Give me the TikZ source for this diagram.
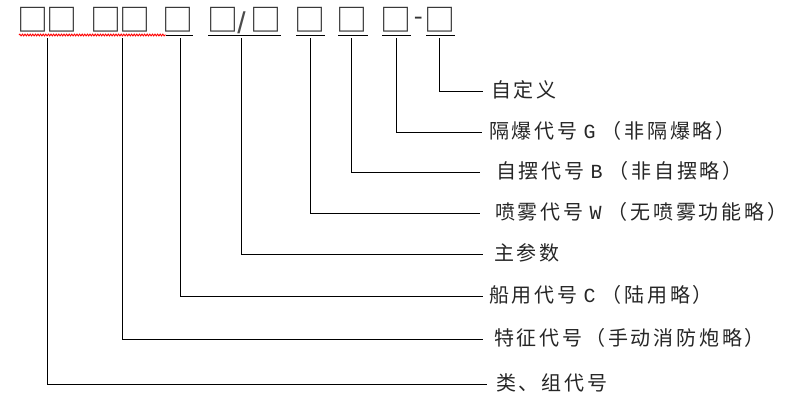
\documentclass[tikz,border=0pt]{standalone}
\usepackage{fontspec}
\newfontfamily\cjk[LetterSpace=14]{Noto Sans CJK SC}
\newfontfamily\cjkbox{Noto Sans CJK SC}
\newfontfamily\monof{Liberation Mono}
\newfontfamily\sansf{Liberation Sans}
\usetikzlibrary{decorations.pathmorphing}
\newcommand{\lat}[1]{\makebox[24pt]{\monof\fontsize{20}{20}\selectfont #1}}
\newcommand{\sqg}{\makebox[21pt]{□}}
\begin{document}
\begin{tikzpicture}[x=1pt,y=-1pt,
  lab/.style={anchor=base west,inner sep=0pt,font=\cjk\fontsize{20}{20}\selectfont,text=black!85},
  sq/.style={inner sep=0pt,font=\cjkbox\fontsize{31}{31}\selectfont,text=black!80},
  slsym/.style={inner sep=0pt,font=\sansf\fontsize{30}{30}\selectfont,text=black!70},
  dasym/.style={inner sep=0pt,font=\monof\fontsize{24}{24}\selectfont,text=black!80},
  conn/.style={line width=0.9pt,black},
  uline/.style={line width=0.9pt,black},
  wavy/.style={red,line width=0.9pt,decorate,decoration={snake,amplitude=0.9pt,segment length=2.6pt}}]
\useasboundingbox[fill=white] (0,0) rectangle (812,405);
% code row
\node[sq] (b1) at (32.5,20) {\sqg};
\node[sq] (b2) at (61.5,20) {\sqg};
\node[sq] (b3) at (106,20) {\sqg};
\node[sq] (b4) at (134.7,20) {\sqg};
\node[sq] (b5) at (178.3,20) {\sqg};
\node[sq] (b6) at (222.8,20) {\sqg};
\node[slsym] (sl) at (241.5,22.5) {\makebox[6pt]{/}};
\node[sq] (b7) at (266,20) {\sqg};
\node[sq] (b8) at (309.7,20) {\sqg};
\node[sq] (b9) at (352,20) {\sqg};
\node[sq] (b10) at (396.3,20) {\sqg};
\node[dasym] (da) at (418.3,20.5) {\makebox[8pt]{-}};
\node[sq] (b11) at (439.7,20) {\sqg};
% underlines
\draw[wavy] (19,35) -- (166,35);
\draw[uline] (166,35) -- (193,35);
\draw[uline] (208,35) -- (281,35);
\draw[uline] (296,35) -- (325,35);
\draw[uline] (338,35) -- (368,35);
\draw[uline] (382,35) -- (411,35);
\draw[uline] (426,35) -- (455,35);
% labels
\node[lab] (l1) at (491,97.5) {自定义};
\node[lab] (l2) at (489,138.5) {隔爆代号\lat{G}（非隔爆略）};
\node[lab] (l3) at (496,178.5) {自摆代号\lat{B}（非自摆略）};
\node[lab] (l4) at (495,219.5) {喷雾代号\lat{W}（无喷雾功能略）};
\node[lab] (l5) at (494,260.5) {主参数};
\node[lab] (l6) at (489,302.5) {船用代号\lat{C}（陆用略）};
\node[lab] (l7) at (494,345.5) {特征代号（手动消防炮略）};
\node[lab] (l8) at (496,390.5) {类、组代号};
% connector ends
\coordinate (v1) at (47,38);   \coordinate (e8) at (487,384);
\coordinate (v2) at (122,38);  \coordinate (e7) at (483,339);
\coordinate (v3) at (180,38);  \coordinate (e6) at (483,296);
\coordinate (v4) at (241,38);  \coordinate (e5) at (483,254);
\coordinate (v5) at (310,38);  \coordinate (e4) at (480,213);
\coordinate (v6) at (351,38);  \coordinate (e3) at (480,172);
\coordinate (v7) at (396,38);  \coordinate (e2) at (482,132);
\coordinate (v8) at (439,38);  \coordinate (e1) at (483,91);
\draw[conn] (v1) |- (e8);
\draw[conn] (v2) |- (e7);
\draw[conn] (v3) |- (e6);
\draw[conn] (v4) |- (e5);
\draw[conn] (v5) |- (e4);
\draw[conn] (v6) |- (e3);
\draw[conn] (v7) |- (e2);
\draw[conn] (v8) |- (e1);
\end{tikzpicture}
\end{document}
